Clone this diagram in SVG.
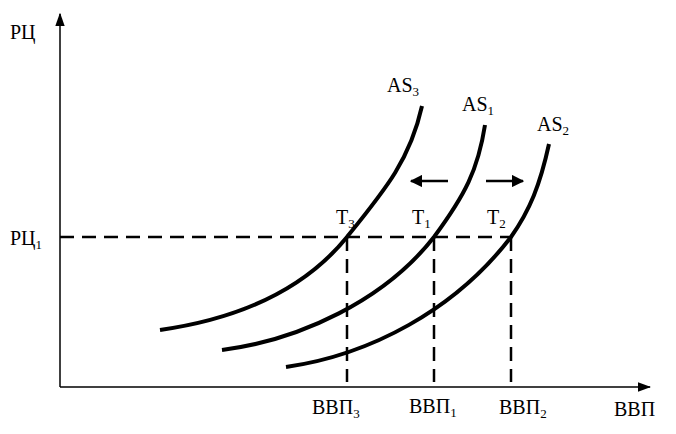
<svg xmlns="http://www.w3.org/2000/svg" width="676" height="434" viewBox="0 0 676 434">
<style>
text{font-family:"Liberation Serif","Times New Roman","DejaVu Serif",serif;font-size:20px;fill:#000}
.sub{font-size:13px}
.axis{stroke:#000;stroke-width:1.5;fill:none}
.dash{stroke:#000;stroke-width:2.5;fill:none;stroke-dasharray:14 8}
.curve{stroke:#000;stroke-width:4;fill:none}
.arr{stroke:#000;stroke-width:2.5;fill:none}
</style>
<defs>
<marker id="ah" viewBox="0 0 10 10" refX="9" refY="5" markerWidth="5" markerHeight="5" orient="auto" markerUnits="strokeWidth"><path d="M0,0 L10,5 L0,10 z" fill="#000"/></marker>
<marker id="ax" viewBox="0 0 10 10" refX="9" refY="5" markerWidth="9" markerHeight="9" orient="auto" markerUnits="strokeWidth"><path d="M0,1.5 L10,5 L0,8.5 z" fill="#000"/></marker>
</defs>
<g id="connectors">
<path class="axis" d="M60,387 L60,14" marker-end="url(#ax)"/>
<path class="axis" d="M60,387 L650,387" marker-end="url(#ax)"/>
<path class="dash" d="M60,237 L511,237"/>
<path class="dash" d="M347,237 L347,382"/>
<path class="dash" d="M434,237 L434,382"/>
<path class="dash" d="M511,237 L511,382"/>
<path class="arr" d="M448,181 L411,181" marker-end="url(#ah)"/>
<path class="arr" d="M486,181 L523,181" marker-end="url(#ah)"/>
</g>
<g id="AS3"><path class="curve" d="M160,330 C230,320 300,295 347,237 C385,190 410,160 422,106"/><text x="387" y="92">AS<tspan class="sub" dy="4">3</tspan></text></g>
<g id="AS1"><path class="curve" d="M222,350 C300,340 385,300 434,237 C465,195 478,170 485,125"/><text x="462" y="111">AS<tspan class="sub" dy="4">1</tspan></text></g>
<g id="AS2"><path class="curve" d="M286,367 C370,355 455,310 511,237 C530,210 540,185 549,144"/><text x="537" y="131">AS<tspan class="sub" dy="4">2</tspan></text></g>
<g id="T3"><text x="336" y="224">T<tspan class="sub" dy="4">3</tspan></text></g>
<g id="T1"><text x="412" y="224">T<tspan class="sub" dy="4">1</tspan></text></g>
<g id="T2"><text x="487" y="224">T<tspan class="sub" dy="4">2</tspan></text></g>
<g id="labels">
<text x="10" y="39">РЦ</text>
<text x="10" y="245">РЦ<tspan class="sub" dy="4">1</tspan></text>
<text x="312" y="414">ВВП<tspan class="sub" dy="4">3</tspan></text>
<text x="409" y="413">ВВП<tspan class="sub" dy="4">1</tspan></text>
<text x="499" y="414">ВВП<tspan class="sub" dy="4">2</tspan></text>
<text x="614" y="416">ВВП</text>
</g>
</svg>
